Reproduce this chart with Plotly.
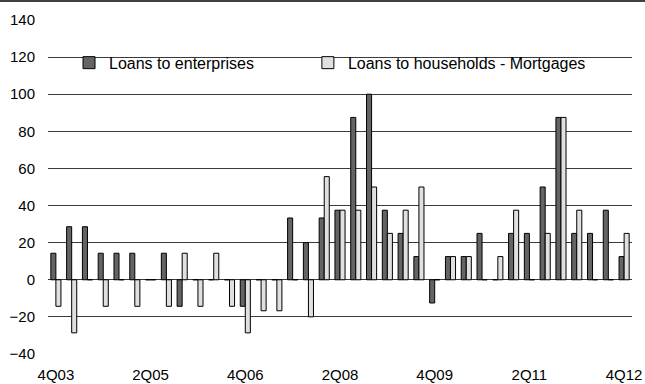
import plotly.graph_objects as go

quarters = []
for y in range(3, 13):
    for q in range(1, 5):
        quarters.append(f"{q}Q{y:02d}")
quarters = quarters[3:40]  # 4Q03 .. 4Q12

enterprises = [14.3, 28.6, 28.6, 14.3, 14.3, 14.3, 0, 14.3, -14.3, 0, 0, 0, -14.3,
               0, 0, 33.3, 20, 33.3, 37.5, 87.5, 100, 37.5, 25, 12.5, -12.5, 12.5,
               12.5, 25, 0, 25, 25, 50, 87.5, 25, 25, 37.5, 12.5]
mortgages = [-14.3, -28.6, 0, -14.3, 0, -14.3, 0, -14.3, 14.3, -14.3, 14.3, -14.3, -28.6,
             -16.7, -16.7, 0, -20, 55.6, 37.5, 37.5, 50, 25, 37.5, 50, 0, 12.5,
             12.5, 0, 12.5, 37.5, 0, 25, 87.5, 37.5, 0, 0, 25]

tick_labels = ["4Q03", "2Q05", "4Q06", "2Q08", "4Q09", "2Q11", "4Q12"]
y_ticks = [-40, -20, 0, 20, 40, 60, 80, 100, 120, 140]

font = dict(family="Liberation Sans, Arial, sans-serif", size=15, color="#000000")
legend_font = dict(family="Liberation Sans, Arial, sans-serif", size=16, color="#000000")

fig = go.Figure()
fig.add_trace(go.Bar(x=quarters, y=enterprises, name="Loans to enterprises", legend="legend",
                     marker=dict(color="#646464", line=dict(color="#000000", width=1))))
fig.add_trace(go.Bar(x=quarters, y=mortgages, name="Loans to households - Mortgages", legend="legend2",
                     marker=dict(color="#e0e0e0", line=dict(color="#000000", width=1))))

leg_common = dict(orientation="h", yanchor="middle", y=0.872, xanchor="left",
                  bgcolor="rgba(0,0,0,0)", borderwidth=0, font=legend_font, itemwidth=30)

fig.update_layout(
    width=645, height=384,
    margin=dict(l=48, r=13, t=20, b=30, autoexpand=False),
    paper_bgcolor="white", plot_bgcolor="white",
    font=font,
    barmode="group", bargap=0.36, bargroupgap=0,
    showlegend=True,
    legend=dict(x=0.036, **leg_common),
    legend2=dict(x=0.445, **leg_common),
    xaxis=dict(type="category", tickmode="array", tickvals=tick_labels, ticktext=tick_labels,
               showgrid=False, zeroline=False, showline=False, ticks="", automargin=False,
               ticklabelstandoff=10, tickfont=font),
    yaxis=dict(range=[-40, 140], tickmode="array", tickvals=y_ticks, automargin=False,
               showgrid=True, gridcolor="#3a3a3a", gridwidth=1,
               zeroline=True, zerolinecolor="#3a3a3a", zerolinewidth=1,
               showline=False, ticks="", ticklabelstandoff=12, tickfont=font),
    shapes=[
        dict(type="rect", xref="paper", yref="y", x0=0.0257, x1=0.9846, y0=116, y1=124,
             fillcolor="white", line=dict(width=0), layer="between"),
        dict(type="line", xref="paper", yref="paper", x0=-0.1, x1=1.1,
             y0=1.057, y1=1.057, line=dict(color="#000000", width=1.5)),
    ],
)

fig.write_html("out.html", config={"displayModeBar": False},
               post_script="document.body.style.margin='0';")
